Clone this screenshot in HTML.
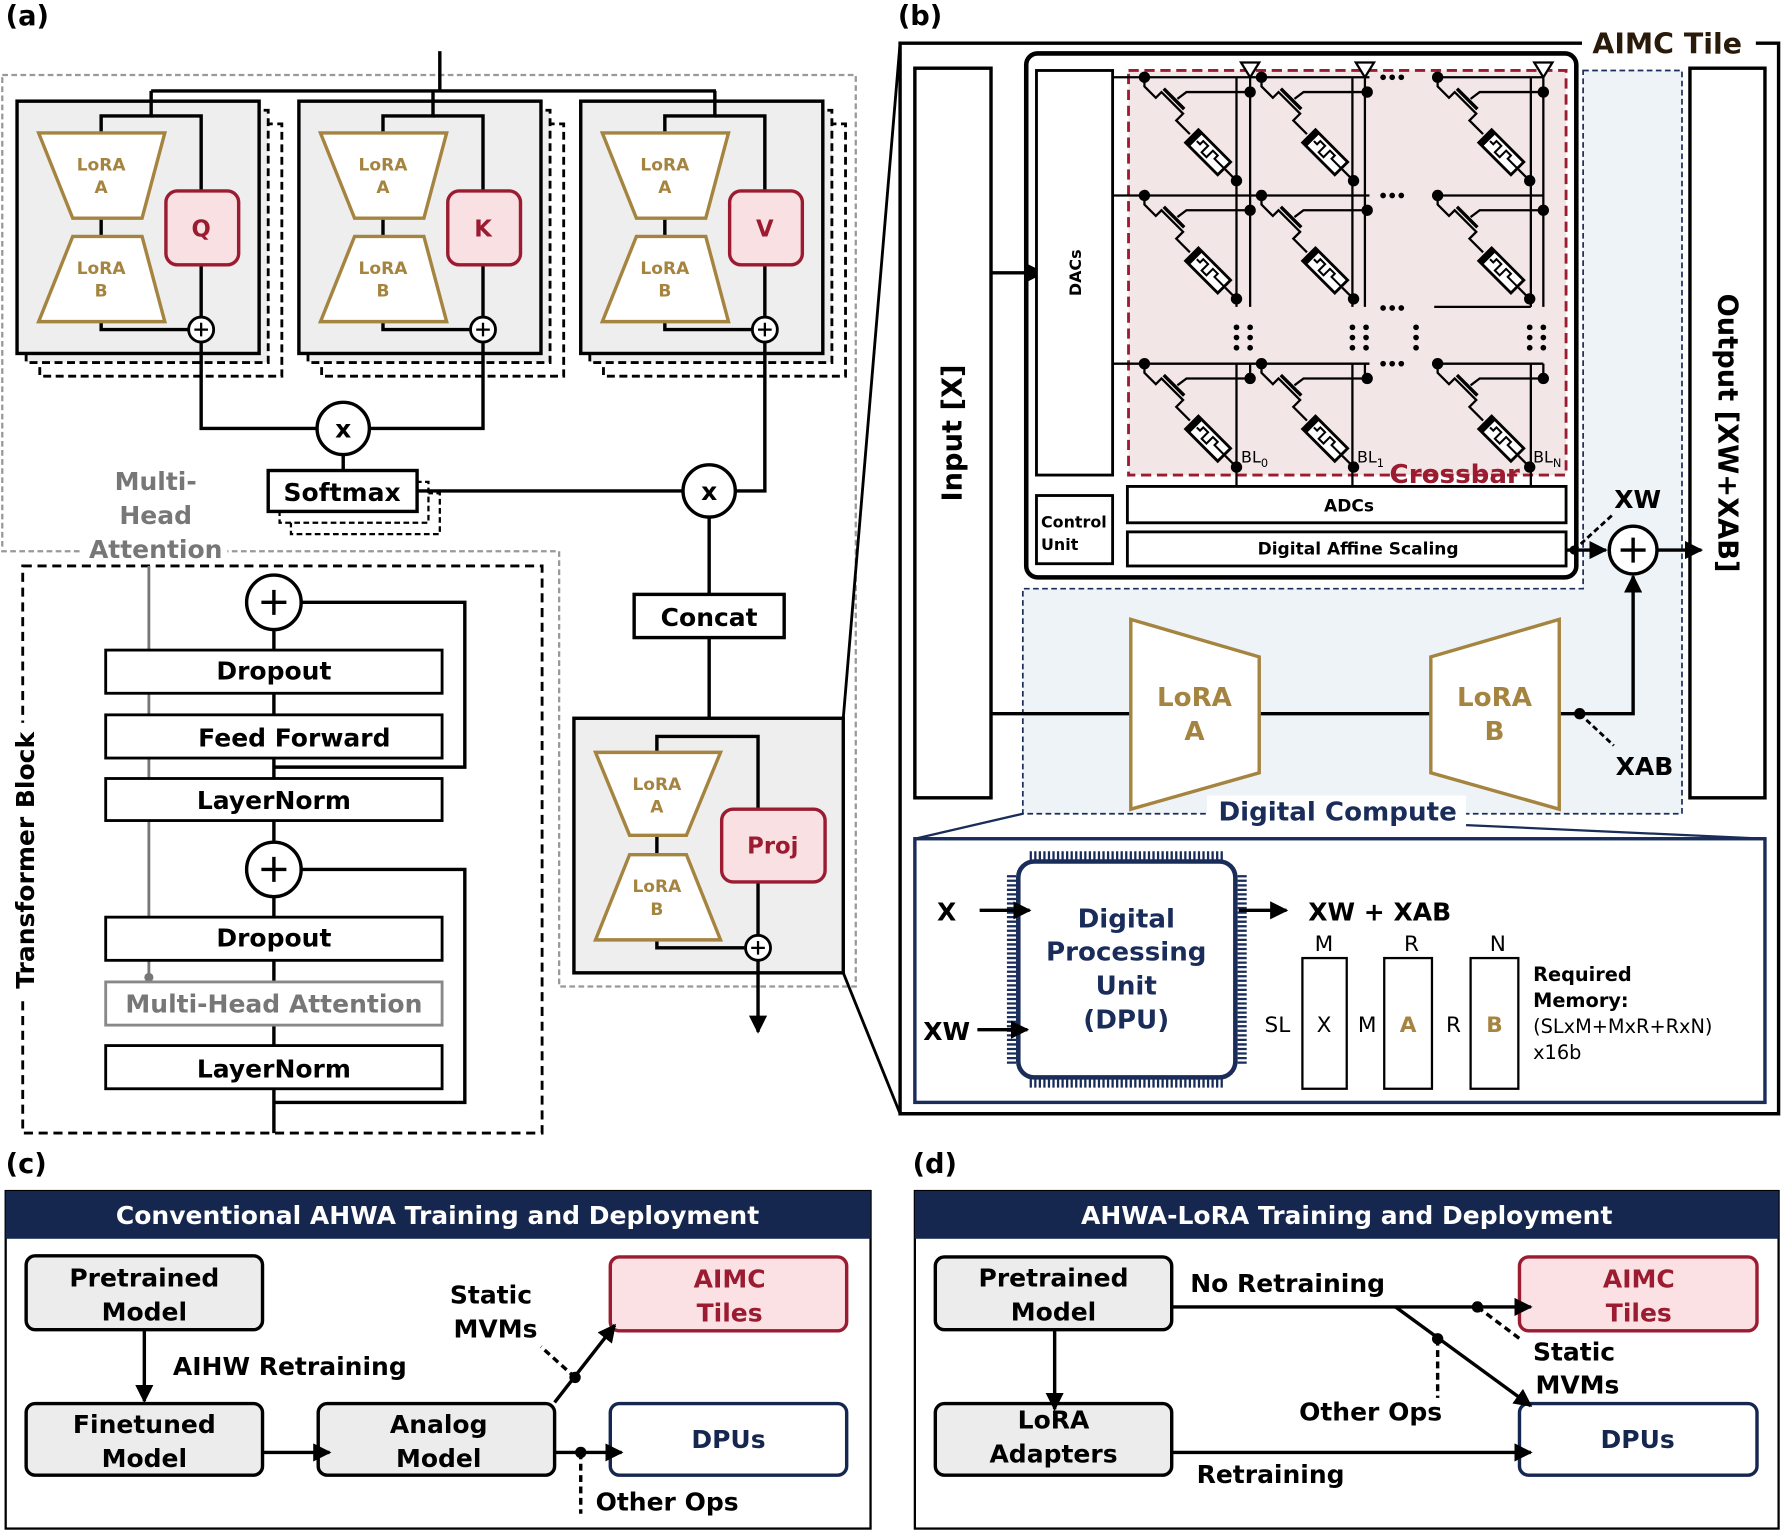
<!DOCTYPE html>
<html><head><meta charset="utf-8"><style>
html,body{margin:0;padding:0;background:#fff}
svg{display:block}
text{font-family:"DejaVu Sans","Liberation Sans",sans-serif;font-weight:bold}
.n{font-weight:normal}
</style></head><body>
<svg width="1782" height="1532" viewBox="0 0 1568 1348" xmlns="http://www.w3.org/2000/svg">
<defs>
<marker id="ah" viewBox="0 0 10 10" markerWidth="16" markerHeight="16" refX="9" refY="5" orient="auto" markerUnits="userSpaceOnUse"><path d="M0,0 L10,5 L0,10 z" fill="#000"/></marker>
<g id="head">
 <rect x="35" y="109" width="213" height="222" fill="none" stroke="#000" stroke-width="2.5" stroke-dasharray="7,4"/>
 <rect x="23" y="97" width="213" height="222" fill="#eee" stroke="#000" stroke-width="2.5" stroke-dasharray="7,4"/>
 <rect x="15" y="89" width="213" height="222" fill="#eee" stroke="#000" stroke-width="3"/>
 <polyline points="133,80 133,102 89,102 89,117" fill="none" stroke="#000" stroke-width="3"/>
 <polyline points="133,102 177,102 177,168" fill="none" stroke="#000" stroke-width="3"/>
 <line x1="89" y1="192" x2="89" y2="208" stroke="#000" stroke-width="3"/>
 <polyline points="89,283 89,290 165,290" fill="none" stroke="#000" stroke-width="3"/>
 <line x1="177" y1="233" x2="177" y2="278" stroke="#000" stroke-width="3"/>
 <polygon points="34,117 145,117 125,192 64,192" fill="#fff" stroke="#a58440" stroke-width="3"/>
 <polygon points="64,208 125,208 145,283 34,283" fill="#fff" stroke="#a58440" stroke-width="3"/>
 <text x="89" y="150" font-size="15" fill="#a58440" text-anchor="middle">LoRA</text>
 <text x="89" y="170" font-size="15" fill="#a58440" text-anchor="middle">A</text>
 <text x="89" y="241" font-size="15" fill="#a58440" text-anchor="middle">LoRA</text>
 <text x="89" y="261" font-size="15" fill="#a58440" text-anchor="middle">B</text>
 <rect x="146" y="168" width="64" height="65" rx="10" fill="#f9e0e3" stroke="#9b1b30" stroke-width="3"/>
 <circle cx="177" cy="290" r="11" fill="#fff" stroke="#000" stroke-width="2.5"/>
 <path d="M171,290 h12 M177,284 v12" stroke="#000" stroke-width="2"/>
</g>
<g id="cell" fill="none" stroke="#000" stroke-width="2">
 <circle cx="0" cy="0" r="4" fill="#000"/>
 <polyline points="0,0 0,8 10,18 15,13 34,32 28,38 40,50"/>
 <line x1="17" y1="10" x2="35" y2="28" stroke-width="3"/>
 <polyline points="29,19 37,13 93,13"/>
 <circle cx="93" cy="13" r="4" fill="#000"/>
 <g transform="translate(56,66) rotate(45)">
  <rect x="-20" y="-8" width="40" height="16" fill="#fff" stroke-width="2.5"/>
  <rect x="-20" y="-8" width="5" height="16" fill="#000" stroke="none"/>
  <polyline points="-14,0 -10,0 -10,-4 -4,-4 -4,4 2,4 2,-4 8,-4 8,0 20,0" stroke-width="1.8"/>
 </g>
 <polyline points="71,81 81,91"/>
 <circle cx="81" cy="91" r="4" fill="#000"/>
</g>
</defs>

<!-- ===== (a) ===== -->
<text x="5" y="22" font-size="24">(a)</text>
<path d="M2,66 H753 V868 H492 V485 H200 M70,485 H2 V66" fill="none" stroke="#999" stroke-width="2" stroke-dasharray="5,3"/>
<text x="137" y="431" font-size="22" fill="#777" text-anchor="middle">Multi-</text>
<text x="137" y="461" font-size="22" fill="#777" text-anchor="middle">Head</text>
<text x="137" y="491" font-size="22" fill="#777" text-anchor="middle">Attention</text>
<line x1="387" y1="45" x2="387" y2="80" stroke="#000" stroke-width="3"/>
<line x1="133" y1="80" x2="630" y2="80" stroke="#000" stroke-width="3"/>
<use href="#head"/>
<use href="#head" x="248"/>
<use href="#head" x="496"/>
<text x="177" y="208" font-size="20" fill="#9b1b30" text-anchor="middle">Q</text>
<text x="425" y="208" font-size="20" fill="#9b1b30" text-anchor="middle">K</text>
<text x="673" y="208" font-size="20" fill="#9b1b30" text-anchor="middle">V</text>
<polyline points="177,301 177,377 279,377" fill="none" stroke="#000" stroke-width="3"/>
<polyline points="425,301 425,377 325,377" fill="none" stroke="#000" stroke-width="3"/>
<line x1="302" y1="400" x2="302" y2="414" stroke="#000" stroke-width="3"/>
<circle cx="302" cy="377" r="23" fill="#fff" stroke="#000" stroke-width="3"/>
<text x="302" y="385" font-size="22" text-anchor="middle">x</text>
<rect x="256" y="434" width="131" height="36" fill="#fff" stroke="#000" stroke-width="2" stroke-dasharray="5,3"/>
<rect x="246" y="424" width="131" height="36" fill="#fff" stroke="#000" stroke-width="2" stroke-dasharray="5,3"/>
<rect x="236" y="414" width="131" height="36" fill="#fff" stroke="#000" stroke-width="3"/>
<text x="301" y="441" font-size="22" text-anchor="middle">Softmax</text>
<line x1="367" y1="432" x2="601" y2="432" stroke="#000" stroke-width="3"/>
<polyline points="673,301 673,432 647,432" fill="none" stroke="#000" stroke-width="3"/>
<circle cx="624" cy="432" r="23" fill="#fff" stroke="#000" stroke-width="3"/>
<text x="624" y="440" font-size="22" text-anchor="middle">x</text>
<line x1="624" y1="455" x2="624" y2="523" stroke="#000" stroke-width="3"/>
<rect x="558" y="523" width="132" height="38" fill="#fff" stroke="#000" stroke-width="3"/>
<text x="624" y="551" font-size="22" text-anchor="middle">Concat</text>
<line x1="624" y1="561" x2="624" y2="632" stroke="#000" stroke-width="3"/>
<rect x="505" y="632" width="237" height="224" fill="#eee" stroke="#000" stroke-width="3"/>
<polyline points="578,662 578,648 667,648 667,712" fill="none" stroke="#000" stroke-width="3"/>
<line x1="578" y1="735" x2="578" y2="752" stroke="#000" stroke-width="3"/>
<polyline points="578,827 578,834 655,834" fill="none" stroke="#000" stroke-width="3"/>
<line x1="667" y1="776" x2="667" y2="823" stroke="#000" stroke-width="3"/>
<polygon points="524,662 634,662 604,735 554,735" fill="#fff" stroke="#a58440" stroke-width="3"/>
<polygon points="554,752 604,752 634,827 524,827" fill="#fff" stroke="#a58440" stroke-width="3"/>
<text x="578" y="695" font-size="15" fill="#a58440" text-anchor="middle">LoRA</text>
<text x="578" y="715" font-size="15" fill="#a58440" text-anchor="middle">A</text>
<text x="578" y="785" font-size="15" fill="#a58440" text-anchor="middle">LoRA</text>
<text x="578" y="805" font-size="15" fill="#a58440" text-anchor="middle">B</text>
<rect x="635" y="712" width="91" height="64" rx="10" fill="#f9e0e3" stroke="#9b1b30" stroke-width="3"/>
<text x="680" y="751" font-size="20" fill="#9b1b30" text-anchor="middle">Proj</text>
<line x1="667" y1="845" x2="667" y2="908" stroke="#000" stroke-width="3" marker-end="url(#ah)"/>
<circle cx="667" cy="834" r="11" fill="#fff" stroke="#000" stroke-width="2.5"/>
<path d="M661,834 h12 M667,828 v12" stroke="#000" stroke-width="2"/>

<!-- transformer block -->
<rect x="20" y="498" width="457" height="499" fill="none" stroke="#000" stroke-width="2.5" stroke-dasharray="8,5"/>
<rect x="8" y="636" width="28" height="244" fill="#fff"/>
<text transform="translate(30,757) rotate(-90)" font-size="22" text-anchor="middle">Transformer Block</text>
<line x1="131" y1="498" x2="131" y2="860" stroke="#777" stroke-width="2.5"/>
<circle cx="131" cy="860" r="4" fill="#777"/>
<line x1="241" y1="506" x2="241" y2="997" stroke="#000" stroke-width="3"/>
<polyline points="265,530 409,530 409,675 241,675" fill="none" stroke="#000" stroke-width="3"/>
<polyline points="265,765 409,765 409,970 241,970" fill="none" stroke="#000" stroke-width="3"/>
<circle cx="241" cy="530" r="24" fill="#fff" stroke="#000" stroke-width="3"/>
<path d="M230,530 h22 M241,519 v22" stroke="#000" stroke-width="3"/>
<circle cx="241" cy="765" r="24" fill="#fff" stroke="#000" stroke-width="3"/>
<path d="M230,765 h22 M241,754 v22" stroke="#000" stroke-width="3"/>
<g font-size="22" text-anchor="middle">
<rect x="93" y="572" width="296" height="38" fill="#fff" stroke="#000" stroke-width="2.5"/><text x="241" y="598">Dropout</text>
<rect x="93" y="629" width="296" height="38" fill="#fff" stroke="#000" stroke-width="2.5"/><text x="259" y="657">Feed Forward</text>
<rect x="93" y="685" width="296" height="37" fill="#fff" stroke="#000" stroke-width="2.5"/><text x="241" y="712">LayerNorm</text>
<rect x="93" y="807" width="296" height="38" fill="#fff" stroke="#000" stroke-width="2.5"/><text x="241" y="833">Dropout</text>
<rect x="93" y="864" width="296" height="38" fill="#fff" stroke="#888" stroke-width="2.5"/><text x="241" y="891" fill="#777">Multi-Head Attention</text>
<rect x="93" y="920" width="296" height="38" fill="#fff" stroke="#000" stroke-width="2.5"/><text x="241" y="948">LayerNorm</text>
</g>

<!-- ===== (b) ===== -->
<text x="790" y="22" font-size="24">(b)</text>
<line x1="742" y1="632" x2="792" y2="38" stroke="#000" stroke-width="2.5"/>
<line x1="742" y1="856" x2="792" y2="980" stroke="#000" stroke-width="2.5"/>
<path d="M1392,38 H792 V980 H1565 V38 H1545" fill="none" stroke="#000" stroke-width="3"/>
<text x="1467" y="47" font-size="25" fill="#2a1a0a" text-anchor="middle">AIMC Tile</text>
<rect x="805" y="60" width="67" height="642" fill="#fff" stroke="#000" stroke-width="3"/>
<text transform="translate(846,381) rotate(-90)" font-size="24" text-anchor="middle">Input [X]</text>
<rect x="1487" y="60" width="66" height="642" fill="#fff" stroke="#000" stroke-width="3"/>
<text transform="translate(1512,381) rotate(90)" font-size="24" text-anchor="middle">Output [XW+XAB]</text>
<polygon points="1393,62 1480,62 1480,716 900,716 900,518 1393,518" fill="#eef3f8" stroke="#1a2c5a" stroke-width="1.5" stroke-dasharray="5,3"/>
<rect x="1062" y="700" width="228" height="28" fill="#fff"/>
<text x="1177" y="722" font-size="23" fill="#1a2c5a" text-anchor="middle">Digital Compute</text>
<rect x="903" y="47" width="484" height="461" rx="10" fill="#fff" stroke="#000" stroke-width="4"/>
<line x1="872" y1="240" x2="918" y2="240" stroke="#000" stroke-width="3" marker-end="url(#ah)"/>
<rect x="912" y="62" width="67" height="356" fill="#fff" stroke="#000" stroke-width="2.5"/>
<text transform="translate(951,240) rotate(-90)" font-size="14" text-anchor="middle">DACs</text>
<rect x="912" y="436" width="67" height="60" fill="#fff" stroke="#000" stroke-width="2.5"/>
<text x="916" y="464" font-size="14">Control</text>
<text x="916" y="484" font-size="14">Unit</text>
<rect x="993" y="62" width="385" height="356" fill="#f3e6e6" stroke="#9b1b30" stroke-width="2.5" stroke-dasharray="9,5"/>
<g stroke="#000" stroke-width="2" fill="none">
 <path d="M979,68 H1205 M1262,68 H1358 M979,172 H1205 M1262,172 H1358 M979,320 H1205 M1262,320 H1358 M1262,270 H1347"/>
 <path d="M1088,68 V270 M1100,58 V270 M1190,68 V270 M1201,58 V270 M1347,68 V270 M1358,58 V270"/>
 <path d="M1088,320 V428 M1100,320 V333 M1190,320 V428 M1201,320 V333 M1347,320 V428 M1358,320 V333"/>
</g>
<g fill="#fff" stroke="#000" stroke-width="2">
 <polygon points="1092,55 1108,55 1100,68"/><polygon points="1193,55 1209,55 1201,68"/><polygon points="1350,55 1366,55 1358,68"/>
</g>
<use href="#cell" x="1007" y="68"/><use href="#cell" x="1110" y="68"/><use href="#cell" x="1265" y="68"/>
<use href="#cell" x="1007" y="172"/><use href="#cell" x="1110" y="172"/><use href="#cell" x="1265" y="172"/>
<use href="#cell" x="1007" y="320"/><use href="#cell" x="1110" y="320"/><use href="#cell" x="1265" y="320"/>
<g fill="#000">
 <circle cx="1217" cy="68" r="2.5"/><circle cx="1225" cy="68" r="2.5"/><circle cx="1233" cy="68" r="2.5"/>
 <circle cx="1217" cy="172" r="2.5"/><circle cx="1225" cy="172" r="2.5"/><circle cx="1233" cy="172" r="2.5"/>
 <circle cx="1217" cy="271" r="2.5"/><circle cx="1225" cy="271" r="2.5"/><circle cx="1233" cy="271" r="2.5"/>
 <circle cx="1217" cy="320" r="2.5"/><circle cx="1225" cy="320" r="2.5"/><circle cx="1233" cy="320" r="2.5"/>
 <g id="vd"><circle cx="1088" cy="288" r="2.5"/><circle cx="1088" cy="297" r="2.5"/><circle cx="1088" cy="306" r="2.5"/><circle cx="1100" cy="288" r="2.5"/><circle cx="1100" cy="297" r="2.5"/><circle cx="1100" cy="306" r="2.5"/></g>
 <use href="#vd" x="102"/><use href="#vd" x="258"/>
 <circle cx="1246" cy="288" r="2.5"/><circle cx="1246" cy="297" r="2.5"/><circle cx="1246" cy="306" r="2.5"/>
</g>
<g font-size="14"><text x="1092" y="407" class="n">BL<tspan font-size="10" dy="4">0</tspan></text><text x="1194" y="407" class="n">BL<tspan font-size="10" dy="4">1</tspan></text><text x="1349" y="407" class="n">BL<tspan font-size="10" dy="4">N</tspan></text></g>
<text x="1280" y="425" font-size="23" fill="#9b1b30" text-anchor="middle">Crossbar</text>
<rect x="992" y="428" width="386" height="32" fill="#fff" stroke="#000" stroke-width="2.5"/>
<text x="1187" y="450" font-size="15" text-anchor="middle">ADCs</text>
<rect x="992" y="468" width="386" height="30" fill="#fff" stroke="#000" stroke-width="2.5"/>
<text x="1195" y="488" font-size="15" text-anchor="middle">Digital Affine Scaling</text>
<line x1="1378" y1="484" x2="1413" y2="484" stroke="#000" stroke-width="3" marker-end="url(#ah)"/>
<circle cx="1385" cy="484" r="4" fill="#000"/>
<line x1="1385" y1="484" x2="1420" y2="452" stroke="#000" stroke-width="2.5" stroke-dasharray="5,3"/>
<text x="1441" y="447" font-size="22" text-anchor="middle">XW</text>
<line x1="1459" y1="484" x2="1497" y2="484" stroke="#000" stroke-width="3" marker-end="url(#ah)"/>
<circle cx="1437" cy="484" r="21" fill="#fff" stroke="#000" stroke-width="3"/>
<path d="M1426,484 h22 M1437,473 v22" stroke="#000" stroke-width="3"/>
<path d="M872,628 H995 M1108,628 H1259 M1372,628 H1437 V507" fill="none" stroke="#000" stroke-width="3" marker-end="url(#ah)"/>
<circle cx="1390" cy="628" r="5" fill="#000"/>
<line x1="1390" y1="628" x2="1420" y2="656" stroke="#000" stroke-width="2.5" stroke-dasharray="5,3"/>
<text x="1447" y="682" font-size="22" text-anchor="middle">XAB</text>
<polygon points="995,545 1108,578 1108,680 995,712" fill="#fff" stroke="#a58440" stroke-width="3"/>
<polygon points="1372,545 1259,578 1259,680 1372,712" fill="#fff" stroke="#a58440" stroke-width="3"/>
<text x="1051" y="621" font-size="23" fill="#a58440" text-anchor="middle">LoRA</text>
<text x="1051" y="651" font-size="23" fill="#a58440" text-anchor="middle">A</text>
<text x="1315" y="621" font-size="23" fill="#a58440" text-anchor="middle">LoRA</text>
<text x="1315" y="651" font-size="23" fill="#a58440" text-anchor="middle">B</text>
<line x1="900" y1="716" x2="805" y2="738" stroke="#1a2c5a" stroke-width="2"/>
<line x1="1290" y1="726" x2="1553" y2="738" stroke="#1a2c5a" stroke-width="2"/>
<rect x="805" y="738" width="748" height="232" fill="#fff" stroke="#1a2c5a" stroke-width="3"/>
<g stroke="#1a2c5a" stroke-width="8" stroke-dasharray="2,2">
 <line x1="906" y1="753" x2="1078" y2="753"/><line x1="906" y1="953" x2="1078" y2="953"/>
 <line x1="890" y1="770" x2="890" y2="938"/><line x1="1093" y1="770" x2="1093" y2="938"/>
</g>
<rect x="896" y="758" width="191" height="190" rx="14" fill="#fff" stroke="#1a2c5a" stroke-width="4"/>
<g font-size="23" fill="#1a2c5a" text-anchor="middle">
<text x="991" y="816">Digital</text><text x="991" y="845">Processing</text><text x="991" y="875">Unit</text><text x="991" y="905">(DPU)</text></g>
<text x="833" y="810" font-size="22" text-anchor="middle">X</text>
<line x1="862" y1="801" x2="906" y2="801" stroke="#000" stroke-width="3" marker-end="url(#ah)"/>
<text x="833" y="915" font-size="22" text-anchor="middle">XW</text>
<line x1="860" y1="906" x2="904" y2="906" stroke="#000" stroke-width="3" marker-end="url(#ah)"/>
<line x1="1090" y1="801" x2="1132" y2="801" stroke="#000" stroke-width="3" marker-end="url(#ah)"/>
<text x="1214" y="810" font-size="22" text-anchor="middle">XW + XAB</text>
<g font-size="19" text-anchor="middle">
<text x="1165" y="837" class="n">M</text><text x="1242" y="837" class="n">R</text><text x="1318" y="837" class="n">N</text>
<text x="1124" y="908" class="n">SL</text><text x="1165" y="908" class="n">X</text><text x="1203" y="908" class="n">M</text>
<text x="1239" y="908" fill="#a58440">A</text><text x="1279" y="908" class="n">R</text><text x="1315" y="908" fill="#a58440">B</text>
</g>
<g fill="none" stroke="#000" stroke-width="2">
<rect x="1146" y="843" width="39" height="115"/><rect x="1218" y="843" width="42" height="115"/><rect x="1294" y="843" width="42" height="115"/></g>
<text x="1349" y="863" font-size="17">Required</text>
<text x="1349" y="886" font-size="17">Memory:</text>
<text x="1349" y="909" font-size="17" class="n">(SLxM+MxR+RxN)</text>
<text x="1349" y="932" font-size="17" class="n">x16b</text>

<!-- ===== (c) ===== -->
<text x="5" y="1032" font-size="24">(c)</text>
<rect x="5" y="1048" width="761" height="297" fill="#fff" stroke="#000" stroke-width="2"/>
<rect x="5" y="1048" width="761" height="42" fill="#15264f"/>
<text x="385" y="1077" font-size="22" fill="#fff" text-anchor="middle">Conventional AHWA Training and Deployment</text>
<g font-size="22" text-anchor="middle">
<rect x="23" y="1105" width="208" height="65" rx="8" fill="#ececec" stroke="#000" stroke-width="3"/><text x="127" y="1132">Pretrained</text><text x="127" y="1162">Model</text>
<rect x="23" y="1235" width="208" height="63" rx="8" fill="#ececec" stroke="#000" stroke-width="3"/><text x="127" y="1261">Finetuned</text><text x="127" y="1291">Model</text>
<rect x="280" y="1235" width="208" height="63" rx="8" fill="#ececec" stroke="#000" stroke-width="3"/><text x="386" y="1261">Analog</text><text x="386" y="1291">Model</text>
<rect x="537" y="1106" width="208" height="65" rx="8" fill="#fbe1e4" stroke="#9b1b30" stroke-width="3"/><text x="642" y="1133" fill="#9b1b30">AIMC</text><text x="642" y="1163" fill="#9b1b30">Tiles</text>
<rect x="537" y="1235" width="208" height="63" rx="8" fill="#fff" stroke="#15264f" stroke-width="3"/><text x="641" y="1274" fill="#15264f">DPUs</text>
<text x="255" y="1210">AIHW Retraining</text>
<text x="432" y="1147">Static</text><text x="436" y="1177">MVMs</text>
<text x="587" y="1329">Other Ops</text>
</g>
<line x1="127" y1="1170" x2="127" y2="1233" stroke="#000" stroke-width="3" marker-end="url(#ah)"/>
<line x1="231" y1="1278" x2="290" y2="1278" stroke="#000" stroke-width="3" marker-end="url(#ah)"/>
<line x1="488" y1="1234" x2="541" y2="1166" stroke="#000" stroke-width="3" marker-end="url(#ah)"/>
<circle cx="506" cy="1212" r="5" fill="#000"/>
<line x1="506" y1="1212" x2="476" y2="1185" stroke="#000" stroke-width="3" stroke-dasharray="6,4"/>
<line x1="488" y1="1278" x2="547" y2="1278" stroke="#000" stroke-width="3" marker-end="url(#ah)"/>
<circle cx="511" cy="1278" r="5" fill="#000"/>
<line x1="511" y1="1278" x2="511" y2="1332" stroke="#000" stroke-width="3" stroke-dasharray="6,4"/>

<!-- ===== (d) ===== -->
<text x="803" y="1032" font-size="24">(d)</text>
<rect x="805" y="1048" width="760" height="297" fill="#fff" stroke="#000" stroke-width="2"/>
<rect x="805" y="1048" width="760" height="42" fill="#15264f"/>
<text x="1185" y="1077" font-size="22" fill="#fff" text-anchor="middle">AHWA-LoRA Training and Deployment</text>
<g font-size="22" text-anchor="middle">
<rect x="823" y="1106" width="208" height="64" rx="8" fill="#ececec" stroke="#000" stroke-width="3"/><text x="927" y="1132">Pretrained</text><text x="927" y="1162">Model</text>
<rect x="823" y="1235" width="208" height="63" rx="8" fill="#ececec" stroke="#000" stroke-width="3"/><text x="927" y="1257">LoRA</text><text x="927" y="1287">Adapters</text>
<rect x="1337" y="1106" width="209" height="65" rx="8" fill="#fbe1e4" stroke="#9b1b30" stroke-width="3"/><text x="1442" y="1133" fill="#9b1b30">AIMC</text><text x="1442" y="1163" fill="#9b1b30">Tiles</text>
<rect x="1337" y="1235" width="209" height="63" rx="8" fill="#fff" stroke="#15264f" stroke-width="3"/><text x="1441" y="1274" fill="#15264f">DPUs</text>
<text x="1133" y="1137">No Retraining</text>
<text x="1385" y="1197">Static</text><text x="1388" y="1226">MVMs</text>
<text x="1206" y="1250">Other Ops</text>
<text x="1118" y="1305">Retraining</text>
</g>
<line x1="1031" y1="1150" x2="1347" y2="1150" stroke="#000" stroke-width="3" marker-end="url(#ah)"/>
<circle cx="1300" cy="1150" r="5" fill="#000"/>
<line x1="1300" y1="1150" x2="1340" y2="1180" stroke="#000" stroke-width="3" stroke-dasharray="6,4"/>
<line x1="1228" y1="1150" x2="1347" y2="1237" stroke="#000" stroke-width="3" marker-end="url(#ah)"/>
<circle cx="1265" cy="1178" r="5" fill="#000"/>
<line x1="1265" y1="1178" x2="1265" y2="1230" stroke="#000" stroke-width="3" stroke-dasharray="6,4"/>
<line x1="928" y1="1170" x2="928" y2="1240" stroke="#000" stroke-width="3" marker-end="url(#ah)"/>
<line x1="1031" y1="1278" x2="1347" y2="1278" stroke="#000" stroke-width="3" marker-end="url(#ah)"/>
</svg>
</body></html>
